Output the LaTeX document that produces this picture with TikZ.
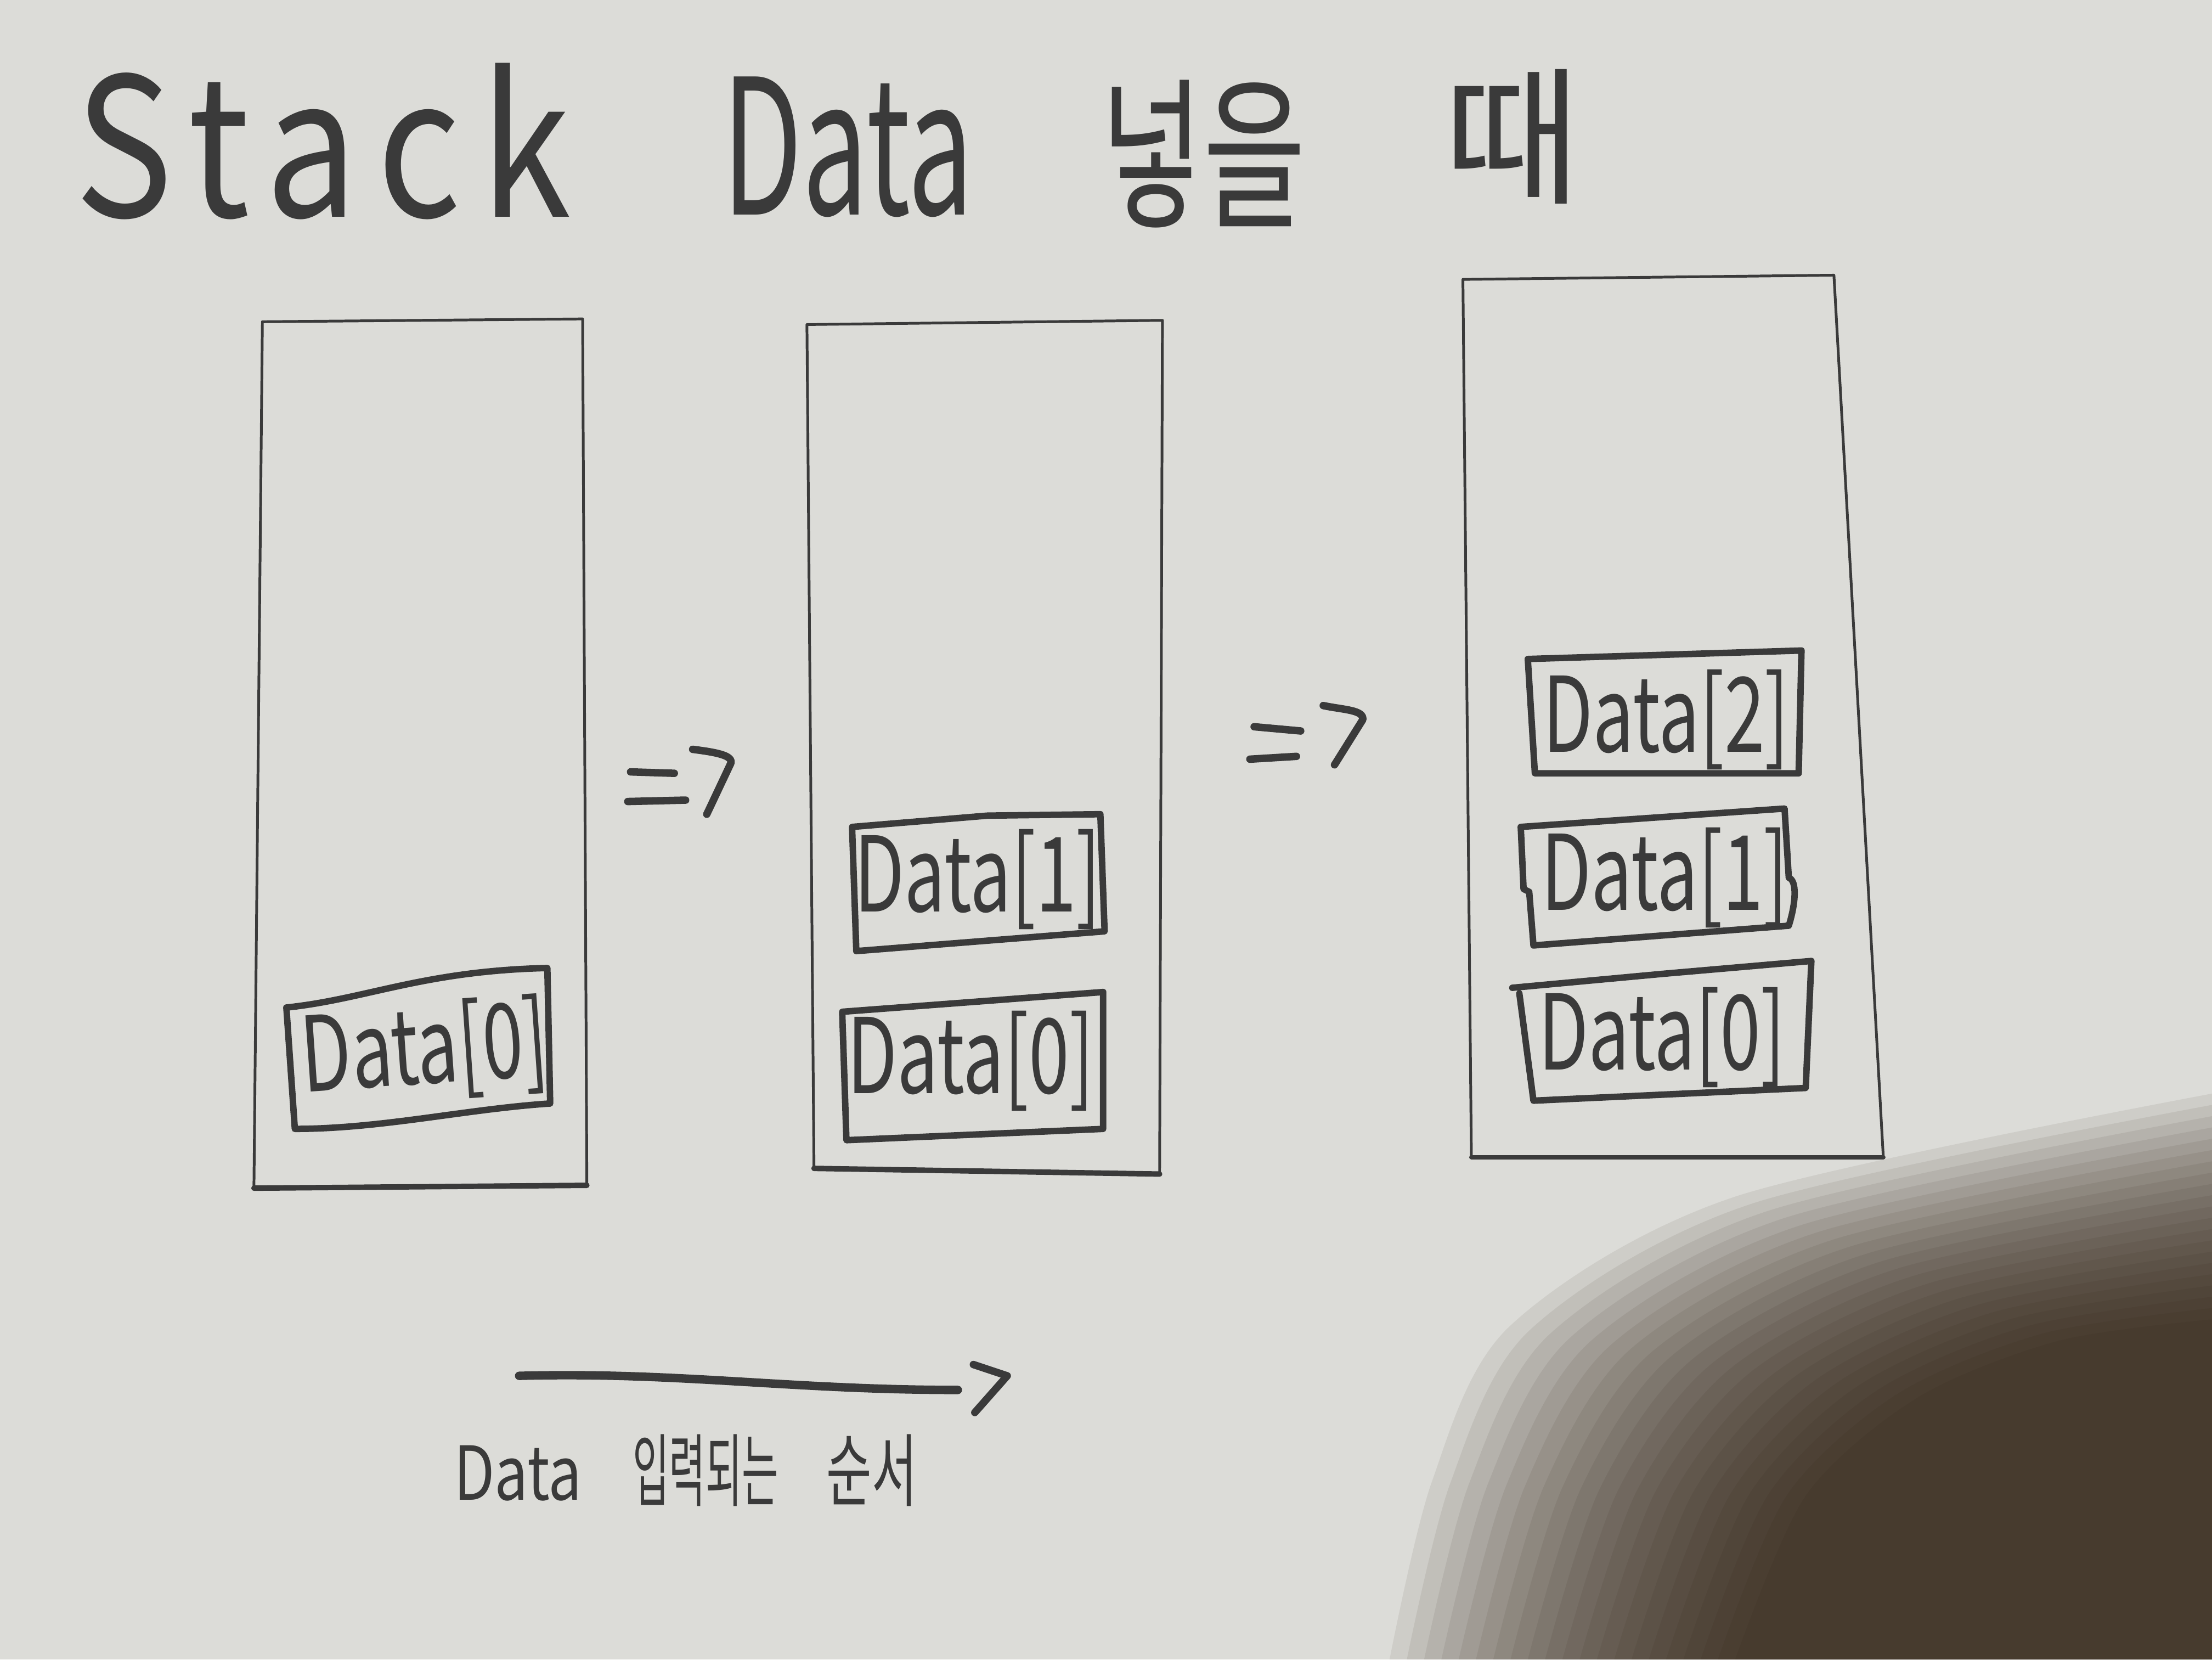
\documentclass[tikz,border=0pt]{standalone}
\usepackage{fontspec}
\setmainfont{Noto Sans CJK KR}
\definecolor{paper}{HTML}{DCDCD8}
\definecolor{ink}{HTML}{3A3A3A}
\definecolor{shadowc}{HTML}{28190B}
\begin{document}
\begin{tikzpicture}[x=0.1mm,y=-0.1mm,
  stackline/.style={draw=ink, line width=0.55pt, line join=round},
  boxline/.style={draw=ink, line width=1.3pt, line cap=round, line join=round},
  pen/.style={draw=ink, line width=1.5pt, line cap=round, line join=round},
  shade/.style={fill=shadowc, opacity=0.076},
  datatext/.style={text=ink, inner sep=0pt,
    font=\fontsize{21}{24}\selectfont\addfontfeature{FakeStretch=0.7}},
  titletext/.style={text=ink, inner sep=0pt}]
% paper
\fill[paper] (0,0) rectangle (1568,1176);
\useasboundingbox (0,0) rectangle (1568,1176);
% photo shadow, bottom right (soft gradient from stacked layers)
\foreach \i in {0,...,20} {
  \pgfmathsetmacro\f{\i/20}
  \fill[shade] plot[smooth] coordinates {({985+245*\f},1176) ({1015+265*\f},{1050+10*\f}) ({1070+290*\f},{940+50*\f}) ({1230+230*\f},{848+102*\f}) (1568,{775+160*\f})} -- (1568,1176) -- cycle;
}

% title
\node[titletext, font=\fontsize{39}{44}\selectfont\addfontfeature{FakeStretch=0.85,LetterSpace=10}] (tstack) at (229,100) {Stack};
\node[titletext, font=\fontsize{38}{44}\selectfont\addfontfeature{FakeStretch=0.62}] (tdata) at (601,104) {Data};
\node[titletext, font=\fontsize{33}{40}\selectfont\addfontfeature{FakeStretch=0.68}] (tput) at (853,109) {넣을};
\node[titletext, font=\fontsize{30}{36}\selectfont] (twhen) at (1072,97) {때};

% stacks
\coordinate (s1a) at (186,228); \coordinate (s1b) at (413,226);
\coordinate (s1c) at (416,840); \coordinate (s1d) at (180,842);
\draw[stackline] (s1a) -- (s1b) -- (s1c) -- (s1d) -- cycle;
\draw[ink, line width=1.1pt, line cap=round] (s1d) -- (s1c);
\coordinate (s2a) at (572,230); \coordinate (s2b) at (824,227);
\coordinate (s2c) at (822,832); \coordinate (s2d) at (577,828);
\draw[stackline] (s2a) -- (s2b) -- (s2c) -- (s2d) -- cycle;
\draw[ink, line width=1.1pt, line cap=round] (s2d) -- (s2c);
\coordinate (s3a) at (1037,198); \coordinate (s3b) at (1300,195);
\coordinate (s3c) at (1335,820); \coordinate (s3d) at (1043,820);
\draw[stackline] (s3a) -- (s3b) -- (s3c) -- (s3d) -- cycle;
\draw[ink, line width=0.9pt, line cap=round] (s3d) -- (s3c);

% stack 1: Data[0]
\draw[boxline] (203,714) .. controls (260,708) and (300,688) .. (388,686) -- (390,782)
  .. controls (330,786) and (270,800) .. (209,800) -- cycle;
\node[datatext, rotate=4] (a0) at (301,745) {Data[0]};

% stack 2
\draw[boxline] (604,586) -- (700,578) -- (780,577) -- (783,660) -- (607,674) -- cycle;
\node[datatext] (b1) at (693,623) {Data[1]};
\draw[boxline] (597,717) -- (690,710) -- (782,703) -- (782,800) -- (600,808) -- cycle;
\node[datatext] (b0) at (688,752) {Data[0]};

% stack 3
\draw[boxline] (1083,467) -- (1277,461) -- (1275,548) -- (1088,548) -- cycle;
\node[datatext] (c2) at (1181,510) {Data[2]};
\draw[boxline] (1078,586) -- (1265,573) -- (1268,622) .. controls (1274,624) and (1273,640) .. (1268,656) -- (1087,670) -- (1084,632) -- (1080,630) -- cycle;
\node[datatext] (c1) at (1180,622) {Data[1]};
\draw[boxline] (1072,700) -- (1180,690) -- (1284,681) -- (1280,771) -- (1087,780) -- (1077,704);
\node[datatext] (c0) at (1178,735) {Data[0]};

% "=>" between stacks
\coordinate (e1a) at (447,547); \coordinate (e1b) at (478,548);
\coordinate (e1c) at (445,568); \coordinate (e1d) at (486,567);
\coordinate (e1e) at (491,531); \coordinate (e1f) at (518,541); \coordinate (e1g) at (501,577);
\draw[pen] (e1a) -- (e1b);
\draw[pen] (e1c) -- (e1d);
\draw[pen] (e1e) .. controls (506,533) and (520,535) .. (e1f) -- (e1g);
\coordinate (e2a) at (889,515); \coordinate (e2b) at (922,518);
\coordinate (e2c) at (886,538); \coordinate (e2d) at (919,536);
\coordinate (e2e) at (938,500); \coordinate (e2f) at (966,510); \coordinate (e2g) at (946,542);
\draw[pen] (e2a) -- (e2b);
\draw[pen] (e2c) -- (e2d);
\draw[pen] (e2e) .. controls (952,503) and (967,503) .. (e2f) -- (e2g);

% order arrow
\coordinate (o1) at (368,975);
\coordinate (o2) at (679,985);
\draw[ink, line width=1.7pt, line cap=round] (o1) .. controls (480,972) and (560,985) .. (o2);
\coordinate (h1) at (690,967); \coordinate (h2) at (714,975); \coordinate (h3) at (691,1001);
\draw[pen] (h1) -- (h2) -- (h3);

% caption
\node[text=ink, inner sep=0pt, anchor=base west] (cap) at (321,1063)
  {{\fontsize{15}{18}\selectfont\addfontfeature{FakeStretch=0.8}Data}\hspace{3.6mm}%
   {\fontsize{16}{18}\selectfont\addfontfeature{FakeStretch=0.5}입력되는}\hspace{3.4mm}%
   {\fontsize{16}{18}\selectfont\addfontfeature{FakeStretch=0.62}순서}};
\end{tikzpicture}
\end{document}
